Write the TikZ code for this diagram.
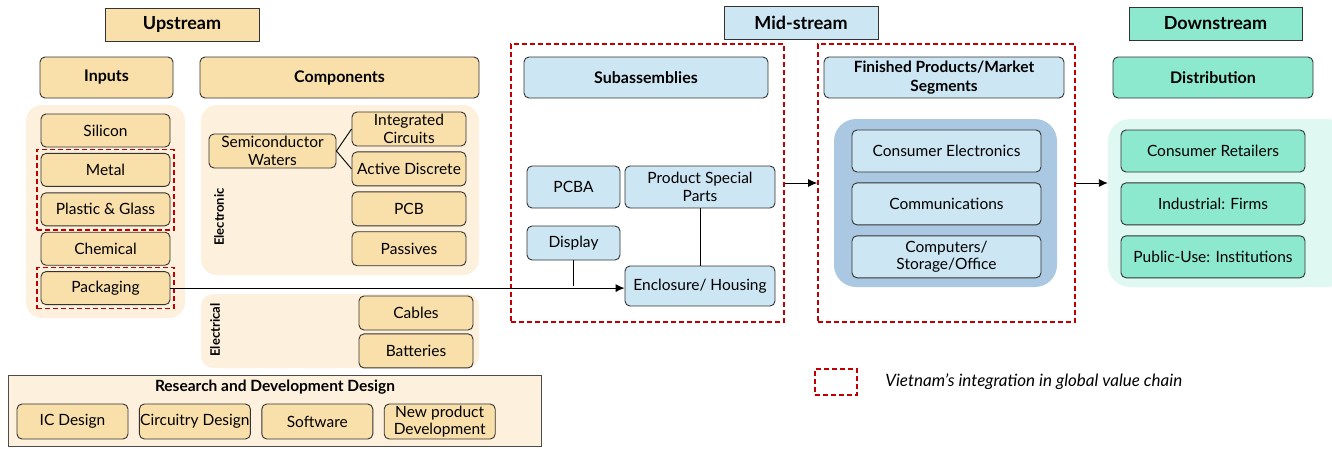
\documentclass[tikz,border=0pt]{standalone}
\usepackage{fontspec}
\setmainfont{Lato}
\usetikzlibrary{positioning,arrows.meta,fit}

\definecolor{upFill}{HTML}{F9DFAA}
\definecolor{upPanel}{HTML}{FDF0DC}
\definecolor{midFill}{HTML}{CDE6F3}
\definecolor{midPanel}{HTML}{AAC8E1}
\definecolor{dnFill}{HTML}{8CE9CE}
\definecolor{dnPanel}{HTML}{DFF8F1}
\definecolor{vnRed}{HTML}{C00000}

\begin{document}
\begin{tikzpicture}[
  x=1pt, y=-1pt,
  font=\fontsize{15.5}{17.5}\selectfont,
  box/.style={draw=black!80, line width=0.9pt, rounded corners=5pt, align=center,
              inner sep=0.5pt},
  upbox/.style={box, fill=upFill},
  midbox/.style={box, fill=midFill},
  dnbox/.style={box, fill=dnFill},
  head/.style={box, minimum height=41pt, font=\fontsize{16}{17}\selectfont\bfseries},
  stage/.style={draw=black!80, line width=0.9pt, minimum width=154pt, minimum height=33pt,
                font=\fontsize{18}{19}\selectfont\bfseries},
  panel/.style={rounded corners=16pt, inner sep=0pt},
  ibox/.style={upbox, minimum width=129pt, minimum height=33pt},
  cbox/.style={upbox, minimum width=114pt, minimum height=34pt},
  rbox/.style={upbox, minimum width=111pt, minimum height=35pt},
  mbox/.style={midbox, minimum width=189pt, minimum height=42pt},
  dbox/.style={dnbox, minimum width=184pt, minimum height=42pt},
  vn/.style={draw=vnRed, line width=1.6pt, dash pattern=on 5pt off 3pt, inner sep=3.5pt},
  side/.style={rotate=90, font=\fontsize{13}{15}\selectfont\bfseries},
  link/.style={line width=0.9pt},
  arr/.style={-{Latex[length=9pt,width=8pt]}, line width=0.9pt}
]
\useasboundingbox (0,0) rectangle (1332,448);
% Background panels
\node[panel, fill=upPanel, minimum width=159pt, minimum height=213pt] (inPanel) at (105.5,211.5) {};
\node[panel, fill=upPanel, minimum width=278pt, minimum height=170pt] (elecPanel) at (340,190) {};
\node[panel, fill=upPanel, minimum width=278pt, minimum height=74pt, rounded corners=12pt] (ecalPanel) at (340,331) {};
\node[panel, fill=midPanel, minimum width=223pt, minimum height=168pt, rounded corners=22pt] (mktPanel) at (945.5,203) {};
\node[panel, fill=dnPanel, minimum width=240pt, minimum height=168pt, rounded corners=22pt] (distPanel) at (1228,203) {};

% Stage titles
\node[stage, fill=upFill] (up) at (182,24.5) {Upstream};
\node[stage, fill=midFill] (mid) at (801,22.5) {Mid-stream};
\node[stage, fill=dnFill, minimum width=173pt] (down) at (1215.5,23.5) {Downstream};

% Upstream: inputs
\node[head, fill=upFill, minimum width=133pt] (inputs) at (106.5,77.5) {Inputs};
\node[ibox] (silicon) at (105.5,130.5) {Silicon};
\node[ibox, below=5.5pt of silicon] (metal) {Metal};
\node[ibox, below=5.5pt of metal] (plastic) {Plastic \& Glass};
\node[ibox, below=5.5pt of plastic] (chem) {Chemical};
\node[ibox, below=5.5pt of chem] (pack) {Packaging};
\node[vn, fit=(metal)(plastic)] (vnMetal) {};
\node[vn, fit=(pack)] (vnPack) {};

% Upstream: components
\node[head, fill=upFill, minimum width=279pt] (comps) at (339.5,77.5) {Components};
\node[side] (elecLab) at (219,217) {Electronic};
\node[side] (ecalLab) at (215,330) {Electrical};
\node[upbox, minimum width=127pt, minimum height=34pt] (semi) at (272.5,151) {Semiconductor\\Waters};
\node[cbox] (ic) at (409,129) {Integrated\\Circuits};
\node[cbox, below=5pt of ic] (active) {Active Discrete};
\node[cbox, below=5pt of active] (pcb) {PCB};
\node[cbox, below=5pt of pcb] (passive) {Passives};
\node[cbox] (cables) at (416,313) {Cables};
\node[cbox, below=3pt of cables] (batt) {Batteries};
\draw[link] (semi.east) -- (ic.west);
\draw[link] (semi.east) -- (active.west);

% Research and development
\node[draw=black!70, line width=0.9pt, fill=upPanel, minimum width=533pt, minimum height=71pt] (rdPanel) at (274.5,410.5) {};
\node[font=\fontsize{15.5}{17}\selectfont\bfseries] (rdTitle) at (275,387) {Research and Development Design};
\node[rbox] (icd) at (72.5,421.5) {IC Design};
\node[rbox, right=10.5pt of icd] (circ) {Circuitry Design};
\node[rbox, right=10.5pt of circ] (soft) {Software};
\node[rbox, right=10.5pt of soft] (newprod) {New product\\Development};

% Mid-stream: subassemblies
\node[head, fill=midFill, minimum width=244pt] (subasm) at (646,77.5) {Subassemblies};
\node[midbox, minimum width=93pt, minimum height=42pt] (pcba) at (573.5,187) {PCBA};
\node[midbox, minimum width=150pt, minimum height=42pt] (psp) at (700,187) {Product Special\\Parts};
\node[midbox, minimum width=93pt, minimum height=34pt] (display) at (573.5,243) {Display};
\node[midbox, minimum width=150pt, minimum height=40pt] (encl) at (700,286) {Enclosure/ Housing};
\node[vn, minimum width=273pt, minimum height=278pt] (vnSub) at (647.5,183) {};

% Mid-stream: finished products
\node[head, fill=midFill, minimum width=240pt, font=\fontsize{15.5}{19.5}\selectfont\bfseries] (finished) at (944,77.5) {Finished Products/Market\\Segments};
\node[mbox] (consEl) at (946.5,151) {Consumer Electronics};
\node[mbox, below=10pt of consEl] (comm) {Communications};
\node[mbox, below=10pt of comm] (comp) {Computers/\\Storage/Office};
\node[vn, minimum width=257pt, minimum height=278pt] (vnFin) at (946.5,183) {};

% Downstream
\node[head, fill=dnFill, minimum width=200pt] (distrib) at (1213,77.5) {Distribution};
\node[dbox] (retail) at (1213,151) {Consumer Retailers};
\node[dbox, below=10pt of retail] (indust) {Industrial: Firms};
\node[dbox, below=10pt of indust] (public) {Public-Use: Institutions};

% Flows
\draw[arr] (pack.east) -- (pack.east -| encl.west);
\draw[link] (display.south) -- (display.south |- encl.west);
\draw[link] (psp) -- (encl);
\draw[arr] (vnSub.east) -- (vnFin.west);
\draw[arr] (vnFin.east) -- (vnFin.east -| distPanel.west);

% Legend
\node[vn, minimum width=42pt, minimum height=26pt] (legKey) at (836,382) {};
\node[right=24pt of legKey, font=\fontsize{17}{19}\selectfont\itshape] (legText) {Vietnam’s integration in global value chain};
\end{tikzpicture}
\end{document}
